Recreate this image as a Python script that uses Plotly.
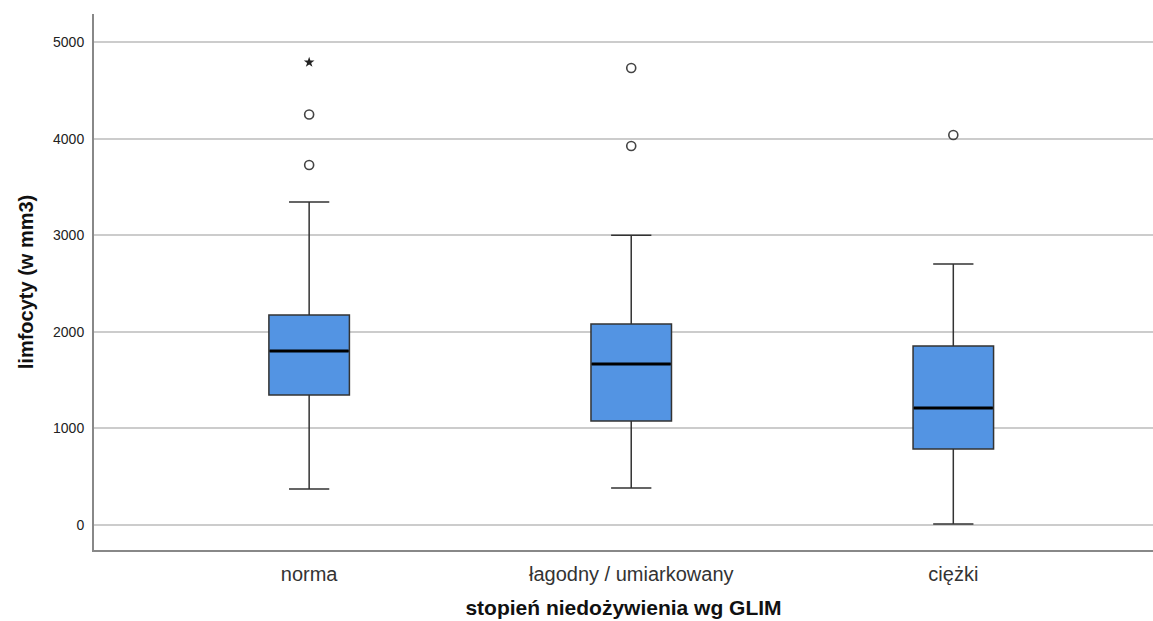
import plotly.graph_objects as go

categories = ["norma", "łagodny / umiarkowany", "ciężki"]
lower_whisker = [373, 383, 10]
q1_vals = [1346, 1077, 787]
median_vals = [1801, 1667, 1211]
q3_vals = [2174, 2081, 1853]
upper_whisker = [3345, 3000, 2702]

outlier_cats = ["norma", "norma", "łagodny / umiarkowany", "łagodny / umiarkowany", "ciężki"]
outlier_vals = [3727, 4250, 3923, 4731, 4037]
extreme_cats = ["norma"]
extreme_vals = [4790]

y_ticks = [0, 1000, 2000, 3000, 4000, 5000]

BOX_FILL = "#5394e3"
EDGE = "#333333"
FONT = "Liberation Sans, Arial, sans-serif"

fig = go.Figure()

fig.add_trace(go.Box(
    x=categories,
    q1=q1_vals, median=median_vals, q3=q3_vals,
    lowerfence=lower_whisker, upperfence=upper_whisker,
    fillcolor=BOX_FILL,
    line=dict(color=EDGE, width=1.5),
    width=0.25,
    whiskerwidth=0.5,
    boxpoints=False,
    hoverinfo="skip",
    showlegend=False,
))

# thick median line drawn as degenerate box
fig.add_trace(go.Box(
    x=categories,
    q1=median_vals, median=median_vals, q3=median_vals,
    lowerfence=median_vals, upperfence=median_vals,
    fillcolor="rgba(0,0,0,0)",
    line=dict(color="black", width=3),
    width=0.245,
    whiskerwidth=0,
    boxpoints=False,
    hoverinfo="skip",
    showlegend=False,
))

fig.add_trace(go.Scatter(
    x=outlier_cats, y=outlier_vals, mode="markers",
    marker=dict(symbol="circle-open", size=9, color="#444444", line=dict(width=1.6)),
    hoverinfo="skip", showlegend=False,
))

fig.add_trace(go.Scatter(
    x=extreme_cats, y=extreme_vals, mode="markers",
    marker=dict(symbol="star", size=8, color="#222222", line=dict(width=0)),
    hoverinfo="skip", showlegend=False,
))

fig.update_layout(
    width=1153, height=621,
    margin=dict(l=94, r=0, t=14, b=71),
    paper_bgcolor="white", plot_bgcolor="white",
    boxmode="overlay",
    font=dict(family=FONT, color="#222222"),
)

fig.update_xaxes(
    type="category",
    categoryorder="array", categoryarray=categories,
    range=[-0.668, 2.62],
    showgrid=False,
    showline=True, linecolor="#888888", linewidth=2,
    ticks="", tickfont=dict(size=20, color="#333333", family=FONT),
    ticklabelstandoff=5,
    title=dict(text="<b>stopień niedożywienia wg GLIM</b>",
               font=dict(size=21, color="#111111", family=FONT), standoff=16),
    zeroline=False,
)

fig.update_yaxes(
    range=[-259, 5290],
    tickvals=y_ticks,
    showgrid=True, gridcolor="#cccccc", gridwidth=1.5,
    showline=True, linecolor="#888888", linewidth=2,
    ticks="", tickfont=dict(size=14, color="#222222", family=FONT),
    ticklabelstandoff=5,
    title=dict(text="<b>limfocyty (w mm3)</b>",
               font=dict(size=20, color="#111111", family=FONT), standoff=14),
    zeroline=False,
)

fig.write_html(
    "out.html",
    config={"displayModeBar": False},
    post_script="document.body.style.margin='0';document.body.style.overflow='hidden';",
)
